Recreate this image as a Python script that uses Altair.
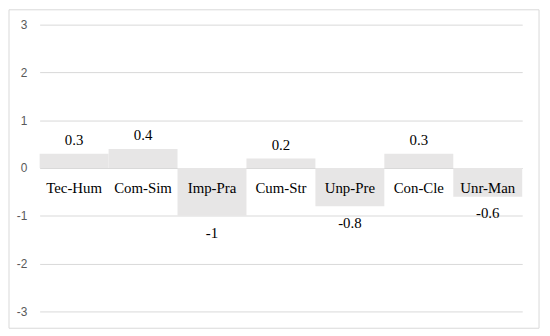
import altair as alt
import pandas as pd

categories = ["Tec-Hum", "Com-Sim", "Imp-Pra", "Cum-Str", "Unp-Pre", "Con-Cle", "Unr-Man"]
values = [0.3, 0.4, -1, 0.2, -0.8, 0.3, -0.6]
value_labels = ["0.3", "0.4", "-1", "0.2", "-0.8", "0.3", "-0.6"]
y_ticks = [-3, -2, -1, 0, 1, 2, 3]

df = pd.DataFrame({"cat": categories, "val": values, "lab": value_labels})

W, H = 488, 290

x = alt.X("cat:N", sort=categories, axis=None,
          scale=alt.Scale(paddingInner=0, paddingOuter=0))
yscale = alt.Scale(domain=[-3, 3], nice=False, zero=True)

base = alt.Chart(df)

bars = base.mark_bar(color="#e7e6e6").encode(
    x=x,
    y=alt.Y("val:Q", scale=yscale,
            axis=alt.Axis(values=y_ticks, title=None, domain=False, ticks=False,
                          grid=True, gridColor="#d9d9d9", gridWidth=1,
                          labelExpr="toString(datum.value)",
                          labelColor="#595959", labelFont="Liberation Sans",
                          labelFontSize=12, labelPadding=13)),
)

pos = base.transform_filter("datum.val > 0").mark_text(
    font="Liberation Serif", fontSize=15, color="#000000", dy=-14, baseline="middle"
).encode(x=x, y=alt.Y("val:Q", scale=yscale), text="lab:N")

neg = base.transform_filter("datum.val < 0").mark_text(
    font="Liberation Serif", fontSize=15, color="#000000", dy=17, baseline="middle"
).encode(x=x, y=alt.Y("val:Q", scale=yscale), text="lab:N")

cat_labels = base.mark_text(
    font="Liberation Serif", fontSize=15, color="#000000", dy=20, baseline="middle"
).encode(x=x, y=alt.datum(0, scale=yscale), text="cat:N")

border = alt.Chart(pd.DataFrame({"a": [0]})).mark_rect(
    fill=None, stroke="#d9d9d9", strokeWidth=1
).encode(x=alt.value(-31), x2=alt.value(W + 17), y=alt.value(-15), y2=alt.value(H + 17))

chart = alt.layer(bars, pos, neg, cat_labels, border).properties(
    width=W, height=H,
    autosize=alt.AutoSizeParams(type="none"),
    padding={"left": 32, "top": 15, "right": 20, "bottom": 20},
).configure_view(stroke=None)

chart.save("out.html", embed_options={"renderer": "svg", "actions": False})
